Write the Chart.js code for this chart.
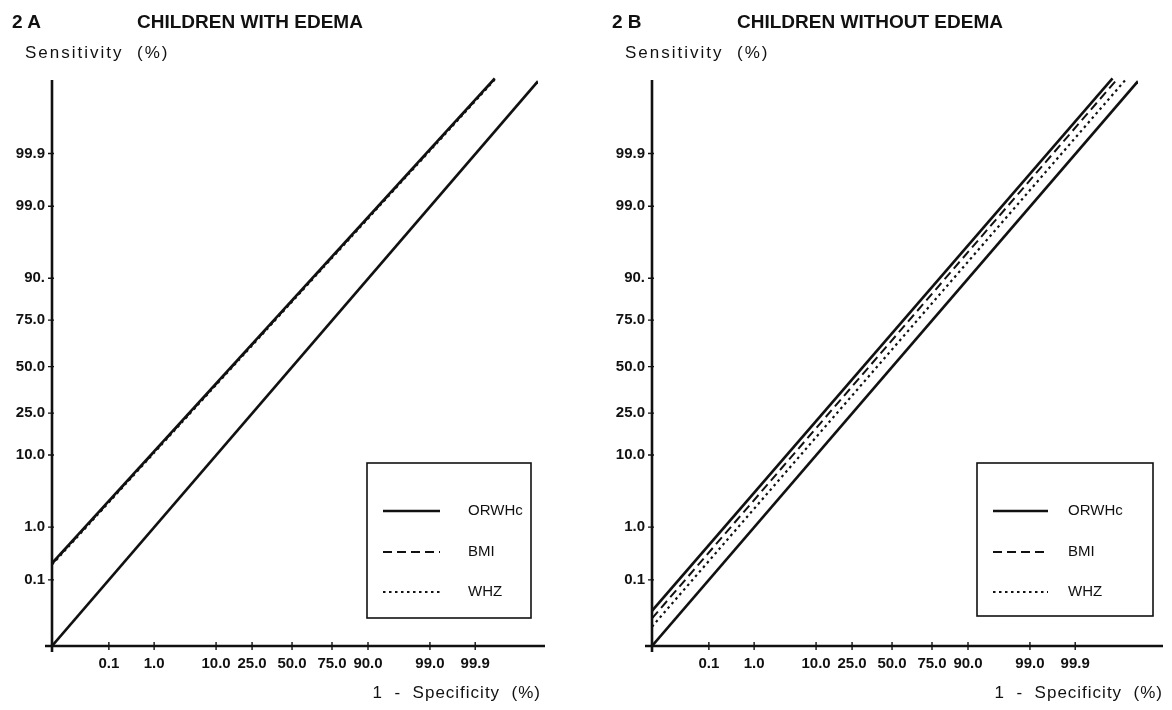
<!DOCTYPE html>
<html>
<head>
<meta charset="utf-8">
<script src="https://cdn.jsdelivr.net/npm/chart.js@4.4.1/dist/chart.umd.min.js"></script>
<style>
  html, body { margin: 0; padding: 0; background: #fff; }
  body { width: 1172px; height: 710px; overflow: hidden; position: relative;
         font-family: "Liberation Sans", Arial, Helvetica, sans-serif; color: #111; }
  canvas { position: absolute; top: 0; }
  .t { position: absolute; white-space: pre; line-height: 1; color: #111; }
  .title { font-size: 19px; font-weight: bold; top: 12px; }
  .ylab { font-size: 17px; letter-spacing: 2px; top: 44px; }
  .xlab { font-size: 17px; letter-spacing: 1px; top: 684px; text-align: right; }
</style>
</head>
<body>
<canvas id="cA" width="586" height="710" style="left:0"></canvas>
<canvas id="cB" width="586" height="710" style="left:586px"></canvas>

<div class="t title" style="left:12px">2 A</div>
<div class="t title" style="left:137px">CHILDREN WITH EDEMA</div>
<div class="t ylab" style="left:25px">Sensitivity  (%)</div>
<div class="t xlab" style="right:631px">1  -  Specificity  (%)</div>

<div class="t title" style="left:612px">2 B</div>
<div class="t title" style="left:737px">CHILDREN WITHOUT EDEMA</div>
<div class="t ylab" style="left:625px">Sensitivity  (%)</div>
<div class="t xlab" style="right:9px">1  -  Specificity  (%)</div>

<script>
// ---------- data (probit / normal-deviate units) ----------
const tickPercents = [0.1, 1, 10, 25, 50, 75, 90, 99, 99.9];
const xTickLabels  = ['0.1', '1.0', '10.0', '25.0', '50.0', '75.0', '90.0', '99.0', '99.9'];
const yTickLabels  = ['0.1', '1.0', '10.0', '25.0', '50.0', '75.0', '90.', '99.0', '99.9'];
const seriesNames  = ['ORWHc', 'BMI', 'WHZ'];

// each line: [x (1-specificity, probit), y (sensitivity, probit)]
const withEdema_ORWHc = [[-4.05, -2.85], [3.42, 4.18]];
const withEdema_BMI   = [[-4.05, -2.86], [3.43, 4.18]];
const withEdema_WHZ   = [[-4.05, -2.87], [3.44, 4.18]];
const withoutEdema_ORWHc = [[-4.05, -3.54], [3.72, 4.18]];
const withoutEdema_BMI   = [[-4.05, -3.65], [3.81, 4.18]];
const withoutEdema_WHZ   = [[-4.05, -3.77], [3.96, 4.18]];
const chanceLine = [[-4.05, -4.05], [4.15, 4.14]];

// ---------- helpers ----------
const INK = '#111';
const FONT = '"Liberation Sans", Arial, Helvetica, sans-serif';

function probit(p) { // inverse standard normal CDF (Abramowitz & Stegun 26.2.23)
  const q = p < 0.5 ? p : 1 - p;
  const t = Math.sqrt(-2 * Math.log(q));
  const z = t - (2.515517 + 0.802853 * t + 0.010328 * t * t) /
                (1 + 1.432788 * t + 0.189269 * t * t + 0.001308 * t * t * t);
  return p < 0.5 ? -z : z;
}

const lineStyles = [
  { borderWidth: 2.6, borderDash: [] },
  { borderWidth: 2.0, borderDash: [9, 5] },
  { borderWidth: 2.2, borderDash: [2.5, 3.5] }
];

const axesPlugin = {
  id: 'probitAxes',
  afterDatasetsDraw(chart, args, o) {
    const { ctx, scales: { x, y } } = chart;
    const x0 = x.getPixelForValue(x.min);
    const y0 = y.getPixelForValue(y.min);
    ctx.save();
    ctx.strokeStyle = INK;
    ctx.lineWidth = 2.6;
    ctx.beginPath();
    ctx.moveTo(x0 - o.xOver, y0); ctx.lineTo(o.xEnd, y0);
    ctx.moveTo(x0, y0 + o.yOver); ctx.lineTo(x0, o.yTop);
    ctx.stroke();
    ctx.lineWidth = 1.4;
    ctx.beginPath();
    x.ticks.forEach(t => { const px = x.getPixelForValue(t.value); ctx.moveTo(px, y0 - 4); ctx.lineTo(px, y0 + 4); });
    y.ticks.forEach(t => { const py = y.getPixelForValue(t.value); ctx.moveTo(x0 - 4, py); ctx.lineTo(x0 + 2, py); });
    ctx.stroke();
    ctx.restore();
  }
};

const boxLegend = {
  id: 'boxLegend',
  afterDraw(chart, args, o) {
    const ctx = chart.ctx;
    ctx.save();
    ctx.strokeStyle = INK;
    ctx.fillStyle = INK;
    ctx.lineWidth = 1.6;
    ctx.strokeRect(o.x, o.y, o.w, o.h);
    ctx.font = '15px ' + FONT;
    ctx.textBaseline = 'middle';
    let row = 0;
    chart.data.datasets.forEach(ds => {
      if (ds.inLegend === false) return;
      const ry = o.rows[row++];
      ctx.setLineDash(ds.borderDash || []);
      ctx.lineWidth = ds.borderWidth;
      ctx.beginPath(); ctx.moveTo(o.sx0, ry); ctx.lineTo(o.sx1, ry); ctx.stroke();
      ctx.setLineDash([]);
      ctx.fillText(ds.label, o.tx, ry);
    });
    ctx.restore();
  }
};

function makeChart(id, series, geo) {
  const datasets = series.map((pts, i) => ({
    label: seriesNames[i],
    data: pts.map(([x, y]) => ({ x, y })),
    showLine: true,
    borderColor: INK,
    borderWidth: lineStyles[i].borderWidth,
    borderDash: lineStyles[i].borderDash,
    pointRadius: 0,
    fill: false
  }));
  datasets.push({
    label: 'chance',
    inLegend: false,
    data: chanceLine.map(([x, y]) => ({ x, y })),
    showLine: true,
    borderColor: INK,
    borderWidth: 2.6,
    pointRadius: 0,
    fill: false
  });

  const tickFont = { family: FONT, size: 15, weight: 'bold' };
  return new Chart(document.getElementById(id), {
    type: 'scatter',
    data: { datasets },
    options: {
      responsive: false,
      animation: false,
      events: [],
      layout: { padding: { left: 0, top: 77, right: geo.padRight, bottom: 0 } },
      plugins: {
        legend: { display: false },
        tooltip: { enabled: false },
        probitAxes: geo.axes,
        boxLegend: geo.legend
      },
      scales: {
        x: {
          type: 'linear', min: -4.05, max: 4.15,
          afterBuildTicks: s => { s.ticks = tickPercents.map(p => ({ value: probit(p / 100) })); },
          afterFit: s => { s.height = 64; },
          grid: { display: false, drawTicks: false },
          border: { display: false },
          ticks: { autoSkip: false, maxRotation: 0, padding: 9, color: INK, font: tickFont,
                   callback: (v, i) => xTickLabels[i] }
        },
        y: {
          type: 'linear', min: -4.05, max: 4.2,
          afterBuildTicks: s => { s.ticks = tickPercents.map(p => ({ value: probit(p / 100) })); },
          afterFit: s => { s.width = geo.yWidth; },
          grid: { display: false, drawTicks: false },
          border: { display: false },
          ticks: { autoSkip: false, padding: 7, color: INK, font: tickFont,
                   callback: (v, i) => yTickLabels[i] }
        }
      }
    },
    plugins: [axesPlugin, boxLegend]
  });
}

makeChart('cA', [withEdema_ORWHc, withEdema_BMI, withEdema_WHZ], {
  padRight: 48, yWidth: 52,
  axes: { xOver: 7, xEnd: 545, yOver: 6, yTop: 80 },
  legend: { x: 367, y: 463, w: 164, h: 155, rows: [511, 552, 592], sx0: 383, sx1: 440, tx: 468 }
});
makeChart('cB', [withoutEdema_ORWHc, withoutEdema_BMI, withoutEdema_WHZ], {
  padRight: 34, yWidth: 66,
  axes: { xOver: 7, xEnd: 577, yOver: 6, yTop: 80 },
  legend: { x: 391, y: 463, w: 176, h: 153, rows: [511, 552, 592], sx0: 407, sx1: 462, tx: 482 }
});
</script>
</body>
</html>
